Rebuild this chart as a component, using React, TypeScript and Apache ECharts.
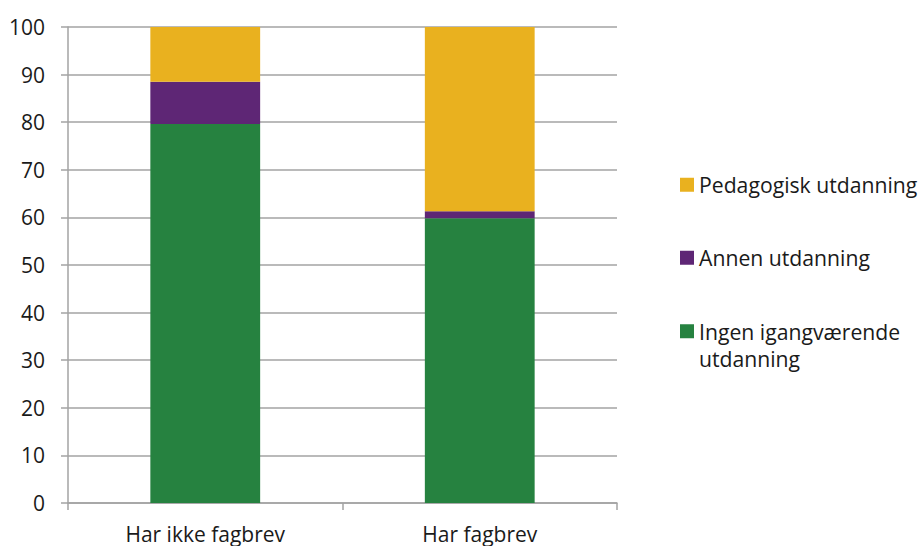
import React, { useEffect, useRef } from "react";
import * as echarts from "echarts";

const categories = ["Har ikke fagbrev", "Har fagbrev"];
const ingenValues = [79.6, 59.8];
const annenValues = [8.9, 1.5];
const pedagogiskValues = [11.5, 38.7];
const yTicks = { min: 0, max: 100, interval: 10 };
const seriesNames = ["Ingen igangværende utdanning", "Annen utdanning", "Pedagogisk utdanning"];

const FONT = "'Open Sans', 'Noto Sans', sans-serif";
const TEXT = "#1a1a1a";
const GRID = "#a3a3a3";

export default function App() {
  const ref = useRef<HTMLDivElement>(null);
  useEffect(() => {
    document.body.style.margin = "0";
    const chart = echarts.init(ref.current!, undefined, { renderer: "svg" });
    const legendText = { fontFamily: FONT, fontSize: 21.2, color: TEXT, lineHeight: 27.5 };
    chart.setOption({
      animation: false,
      textStyle: { fontFamily: FONT },
      grid: { left: 68, right: 304, top: 27, bottom: 43 },
      legend: [
        {
          orient: "vertical",
          left: 680,
          top: 171,
          padding: 0,
          itemWidth: 14,
          itemHeight: 14,
          itemGap: 45.5,
          selectedMode: false,
          icon: "rect",
          textStyle: legendText,
          data: [seriesNames[2], seriesNames[1]],
        },
        {
          orient: "vertical",
          left: 680,
          top: 290,
          padding: 0,
          itemWidth: 14,
          itemHeight: 14,
          selectedMode: false,
          icon: "rect",
          textStyle: legendText,
          formatter: () => "\nIngen igangværende\nutdanning",
          data: [seriesNames[0]],
        },
      ],
      xAxis: {
        type: "category",
        data: categories,
        boundaryGap: true,
        axisLine: { show: true, lineStyle: { color: GRID, width: 1.5 } },
        axisTick: { show: true, length: 7, interval: 0, lineStyle: { color: GRID, width: 1.5 } },
        axisLabel: { fontSize: 21, color: TEXT, margin: 20, fontFamily: FONT },
        splitLine: { show: false },
      },
      yAxis: {
        type: "value",
        min: yTicks.min,
        max: yTicks.max,
        interval: yTicks.interval,
        axisLine: { show: true, lineStyle: { color: GRID, width: 1.5 } },
        axisTick: { show: true, length: 7, lineStyle: { color: GRID, width: 1.5 } },
        axisLabel: { fontSize: 21, color: TEXT, margin: 23, fontFamily: FONT },
        splitLine: { show: true, lineStyle: { color: GRID, width: 1.5 } },
      },
      series: [
        { name: seriesNames[0], type: "bar", stack: "total", barWidth: "40%", data: ingenValues, itemStyle: { color: "#268240" } },
        { name: seriesNames[1], type: "bar", stack: "total", barWidth: "40%", data: annenValues, itemStyle: { color: "#5e2675" } },
        { name: seriesNames[2], type: "bar", stack: "total", barWidth: "40%", data: pedagogiskValues, itemStyle: { color: "#e9b11f" } },
      ],
    });
    return () => chart.dispose();
  }, []);
  return <div ref={ref} style={{ width: 921, height: 546 }} />;
}
